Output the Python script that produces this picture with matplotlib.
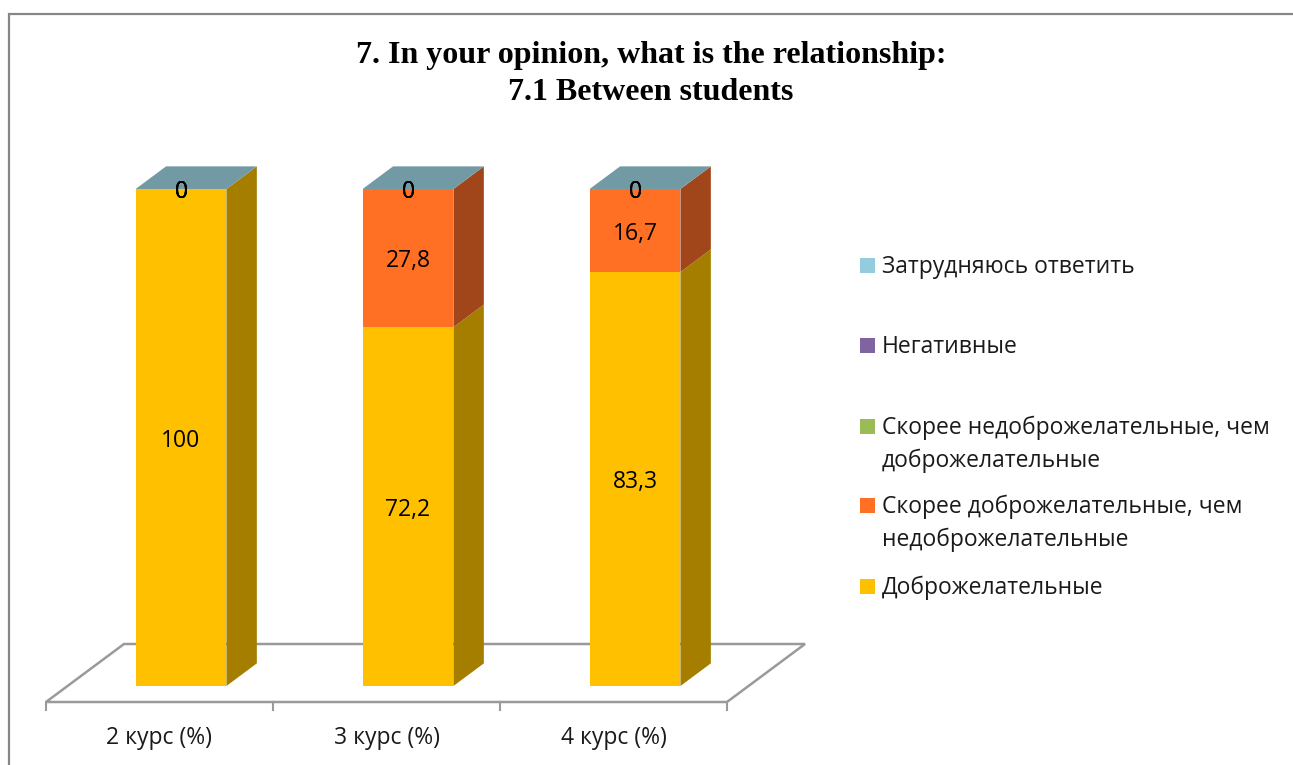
import numpy as np
import matplotlib
matplotlib.use("Agg")
from matplotlib import pyplot as plt
from matplotlib.patches import Polygon, Rectangle

W, H = 1293, 765
plt.rcParams['font.family'] = ['Open Sans', 'DejaVu Sans']

# data (bottom -> top of the stack)
courses = ["2 курс (%)", "3 курс (%)", "4 курс (%)"]
series = ["Доброжелательные",
          "Скорее доброжелательные, чем\nнедоброжелательные",
          "Скорее недоброжелательные, чем\nдоброжелательные",
          "Негативные",
          "Затрудняюсь ответить"]
friendly = [100, 72.2, 83.3]
rather_friendly = [0, 27.8, 16.7]
rather_unfriendly = [0, 0, 0]
negative = [0, 0, 0]
no_answer = [0, 0, 0]
labels_txt = [["100", "72,2", "83,3"],
              ["0", "27,8", "16,7"],
              ["0", "0", "0"],
              ["0", "0", "0"],
              ["0", "0", "0"]]
values = [friendly, rather_friendly, rather_unfriendly, negative, no_answer]

front = ["#FFC000", "#FF6F24", "#9BBB59", "#8064A2", "#93CDDD"]
side = ["#A57E00", "#A1461A", "#647A3A", "#533F6A", "#5F8590"]
top_col = "#729AA5"

fig = plt.figure(figsize=(W / 100, H / 100), dpi=100)
ax = fig.add_axes([0, 0, 1, 1])
# category units horizontally, percent vertically
px_cat, px_val = 227.0, 4.97
x0, y0 = 159.5, 702.0
ax.set_xlim(-x0 / px_cat, (W - x0) / px_cat)
ax.set_ylim((y0 - H) / px_val, y0 / px_val)
ax.axis("off")

# oblique depth: whole floor depth = 1
ddx, ddy = 78 / px_cat, 58 / px_val
def P(x, v, d):
    return (x + d * ddx, v + d * ddy)

d_f, d_b = 0.276, 0.666
bw = 0.4
n = len(courses)

# floor
floor = [P(-0.5, 0, 0), P(n - 0.5, 0, 0), P(n - 0.5, 0, 1), P(-0.5, 0, 1)]
ax.add_patch(Polygon(floor, closed=True, facecolor="white", edgecolor="#9A9A9A", lw=1.8, zorder=1))
for k in range(n + 1):
    ax.plot([k - 0.5, k - 0.5], [0, -8 / px_val], color="#9A9A9A", lw=1.5, zorder=1)
for i, c in enumerate(courses):
    ax.text(i, -42 / px_val, c, ha="center", va="baseline", fontsize=16.5, color="#1a1a1a")

# bars
for i in range(n):
    xl, xr = i - bw / 2, i + bw / 2
    bottom = 0
    for s in range(len(values)):
        v = values[s][i]
        if v > 0:
            ax.add_patch(Polygon([P(xl, bottom, d_f), P(xr, bottom, d_f), P(xr, bottom + v, d_f), P(xl, bottom + v, d_f)],
                                 closed=True, facecolor=front[s], edgecolor="none", zorder=2))
            ax.add_patch(Polygon([P(xr, bottom, d_f), P(xr, bottom, d_b), P(xr, bottom + v, d_b), P(xr, bottom + v, d_f)],
                                 closed=True, facecolor=side[s], edgecolor="none", zorder=2))
        bottom += v
    ax.add_patch(Polygon([P(xl, bottom, d_f), P(xr, bottom, d_f), P(xr, bottom, d_b), P(xl, bottom, d_b)],
                         closed=True, facecolor=top_col, edgecolor="none", zorder=2))

# data labels
for i in range(n):
    bottom = 0
    for s in range(len(values)):
        v = values[s][i]
        ax.annotate(labels_txt[s][i], xy=P(i, bottom + v / 2, d_f), xytext=(0, -6.5), textcoords="offset points",
                    ha="center", va="baseline", fontsize=16.5, color="black", zorder=3)
        bottom += v

# title
fig.text(651 / W, 1 - 63 / H, "7. In your opinion, what is the relationship:", ha="center", va="baseline",
         fontsize=23, fontweight="bold", family="Liberation Serif")
fig.text(651 / W, 1 - 100.5 / H, "7.1 Between students", ha="center", va="baseline",
         fontsize=23, fontweight="bold", family="Liberation Serif")

# legend (top entry first)
leg_y = [273, 353, 434, 513, 594]
for j, s in enumerate(range(len(series) - 1, -1, -1)):
    yb = leg_y[j]
    fig.patches.append(Rectangle((860 / W, 1 - yb / H), 15 / W, 15 / H, transform=fig.transFigure,
                                 facecolor=front[s], edgecolor="none"))
    for k, line in enumerate(series[s].split("\n")):
        fig.text(882 / W, 1 - (yb + k * 32.7) / H, line, ha="left", va="baseline", fontsize=16.5, color="#1a1a1a")

# chart border
fig.patches.append(Rectangle((8.5 / W, -0.1), 1.2, 1 - 13.5 / H + 0.1, transform=fig.transFigure,
                             facecolor="none", edgecolor="#878787", lw=1.6))

fig.savefig("out.png", dpi=100)
